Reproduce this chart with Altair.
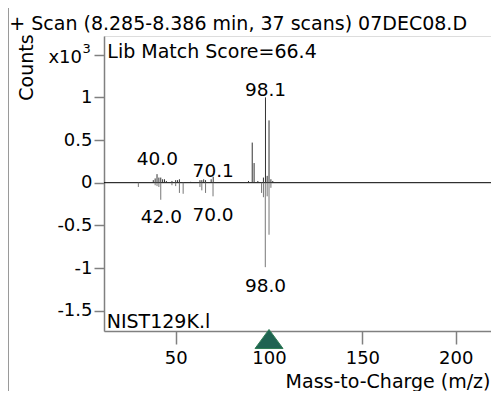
import altair as alt
import pandas as pd

# ---- data (counts in units of 10^3) ----
sample_mz = [38, 39, 40, 41, 42, 43, 44, 45, 48, 50, 51, 52, 58, 63, 64, 65, 66, 69, 70.1,
             89, 91, 92, 94, 97, 98.1, 99, 100, 101, 102]
sample_int = [0.03, 0.05, 0.10, 0.06, 0.06, 0.04, 0.04, 0.02, 0.02, 0.03, 0.03, 0.04, 0.01,
              0.03, 0.03, 0.04, 0.03, 0.04, 0.07, 0.02, 0.47, 0.23, 0.02, 0.06, 1.00, 0.08,
              0.73, 0.04, 0.02]

library_mz = [30, 39, 40, 41, 42, 48, 50, 52, 54, 63, 64, 66, 70, 96, 97, 98, 99, 100, 101]
library_int = [0.05, 0.03, 0.04, 0.05, 0.20, 0.03, 0.04, 0.12, 0.13, 0.05, 0.09, 0.12, 0.16,
               0.12, 0.17, 0.99, 0.16, 0.61, 0.06]

label_text = ["98.1", "40.0", "70.1", "42.0", "70.0", "98.0"]
label_mz = [98.1, 40.2, 70.1, 42.3, 70.0, 98.1]
label_y = [1.02, 0.21, 0.07, -0.47, -0.45, -1.28]

precursor_mz = [100]

y_ticks = [-1.5, -1.0, -0.5, 0.0, 0.5, 1.0, 1.5]
x_ticks = [50, 100, 150, 200]

title_text = "+ Scan (8.285-8.386 min, 37 scans) 07DEC08.D"
score_text = "Lib Match Score=66.4"
lib_text = "NIST129K.l"
y_title = "Counts"
x_title = "Mass-to-Charge (m/z)"
exp_base = "x10"
exp_power = "3"

# ---- tables ----
peaks = pd.DataFrame({
    "mz": sample_mz + library_mz,
    "intensity": sample_int + [-v for v in library_int],
    "series": ["sample"] * len(sample_mz) + ["library"] * len(library_mz),
})
labels = pd.DataFrame({"mz": label_mz, "y": label_y, "text": label_text})
prec = pd.DataFrame({"mz": precursor_mz})

W, H = 387, 295
FONT = "DejaVu Sans"

xs = alt.Scale(domain=[11.6, 218.9], nice=False, zero=False)
ys = alt.Scale(domain=[-1.738, 1.719], nice=False, zero=False)

x_axis = alt.Axis(values=x_ticks, grid=False, tickSize=13, tickColor="#808080",
                  domainColor="#808080", domainWidth=1.5, tickWidth=1.5,
                  labelFont=FONT, labelFontSize=18, labelColor="black", labelPadding=5,
                  title=x_title, titleFont=FONT, titleFontSize=19,
                  titleFontWeight="normal", titleColor="black", titleX=W - 1, titleY=56,
                  titleAlign="right", titleAnchor="end", titleBaseline="alphabetic")
y_axis = alt.Axis(values=y_ticks, grid=False, tickSize=10, tickColor="#808080",
                  domainColor="#808080", domainWidth=1.5, tickWidth=1.5,
                  labelFont=FONT, labelFontSize=18, labelColor="black", labelPadding=2,
                  labelExpr="datum.value == 1.5 ? '' : toString(datum.value)",
                  title=None)

bars = alt.Chart(peaks).mark_rule(strokeWidth=1).encode(
    x=alt.X("mz:Q", scale=xs, axis=x_axis),
    y=alt.Y("intensity:Q", scale=ys, axis=y_axis),
    y2=alt.datum(0),
    color=alt.Color("series:N", scale=alt.Scale(domain=["sample", "library"],
                                                 range=["#333333", "#777777"]), legend=None),
)

zero = alt.Chart(alt.Data(values=[{}])).mark_rule(color="black", strokeWidth=1).encode(
    y=alt.datum(0, scale=ys)
)

lab = alt.Chart(labels).mark_text(font=FONT, fontSize=18.5, color="black",
                                  baseline="alphabetic", align="center").encode(
    x=alt.X("mz:Q", scale=xs), y=alt.Y("y:Q", scale=ys), text="text:N"
)

marker = alt.Chart(prec).mark_point(
    shape="M0,-0.68L-1,0.68L1,0.68Z", size=784, filled=True, fill="#1f6352",
    stroke="#2f7d55", strokeWidth=1, opacity=1
).encode(x=alt.X("mz:Q", scale=xs), y=alt.value(H + 8))

one = alt.Data(values=[{}])


def note(txt, x, y, size=19, align="left", angle=0):
    return alt.Chart(one).mark_text(text=txt, font=FONT, fontSize=size, color="black",
                                    align=align, baseline="alphabetic", angle=angle).encode(
        x=alt.value(x), y=alt.value(y))


title_mark = note(title_text, -94.7, -6)
score_mark = note(score_text, 3.3, 22)
lib_mark = note(lib_text, 2.7, H - 3)
counts_mark = note(y_title, -71, 31.5, align="center", angle=270)
exp1 = note(exp_base, -22, 26.5, size=18, align="right")
exp2 = note(exp_power, -21.5, 17, size=13)

frame = alt.Chart(one).mark_rule(color="#9a9a9a", strokeWidth=1).encode(
    x=alt.value(-95.5), y=alt.value(-28), y2=alt.value(H + 60))

chart = alt.layer(frame, zero, bars, lab, marker, title_mark, score_mark, lib_mark,
                  counts_mark, exp1, exp2).properties(
    width=W, height=H,
    autosize=alt.AutoSizeParams(type="none"),
    padding={"left": 96, "top": 28, "right": 0, "bottom": 60},
).configure_view(stroke=None).configure(background="white")

chart.save("out.html", embed_options={"renderer": "svg", "actions": False})
